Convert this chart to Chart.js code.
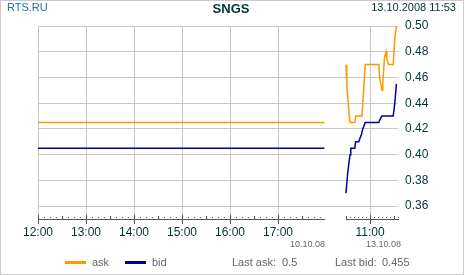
<!DOCTYPE html>
<html>
<head>
<meta charset="utf-8">
<title>SNGS</title>
<script src="https://cdn.jsdelivr.net/npm/chart.js@4/dist/chart.umd.min.js"></script>
<style>
    body { margin: 0; background: #fff; }
    #frame {
        position: relative;
        width: 465px;
        height: 275px;
        font-family: "Liberation Sans", Arial, sans-serif;
        font-size: 11px;
    }
    #frame .border {
        position: absolute;
        left: 0; top: 0;
        width: 464px; height: 275px;
        box-sizing: border-box;
        border: 1px solid #cccccc;
        pointer-events: none;
    }
    #chart { position: absolute; left: 0; top: 0; }
    .txt { position: absolute; line-height: 13px; white-space: nowrap; }
    .source { left: 7px; top: 1px; color: #1f6fa3; }
    .ticker { left: 181px; width: 100px; top: 1px; text-align: center; font-weight: bold; font-size: 13px; line-height: 15px; color: #003333; }
    .stamp { right: 9px; top: 1px; color: #003333; }
    .legend { color: #666666; top: 256px; }
    .swatch { position: absolute; top: 261px; width: 21px; height: 3px; }
</style>
</head>
<body>
<div id="frame">
    <canvas id="chart" width="465" height="275"></canvas>
    <div class="txt source">RTS.RU</div>
    <div class="txt ticker" id="ticker"></div>
    <div class="txt stamp" id="stamp"></div>

    <div class="swatch" style="left:65px; background:#ff9900;"></div>
    <div class="txt legend" style="left:92px;">ask</div>
    <div class="swatch" style="left:125px; background:#000099;"></div>
    <div class="txt legend" style="left:152px;">bid</div>
    <div class="txt legend" style="left:232px;">Last ask:</div>
    <div class="txt legend" style="left:282px;" id="lastAsk"></div>
    <div class="txt legend" style="left:335px;">Last bid:</div>
    <div class="txt legend" style="left:382px;" id="lastBid"></div>

    <div class="border"></div>
</div>

<script>
// --- data ---
const ticker = 'SNGS';
const stamp = '13.10.2008 11:53';

// two trading sessions shown side by side with a break between them
const sessionDates = ['10.10.08', '13.10.08'];
const sessionStart = ['12:00', '10:30'];
const sessionEnd = ['17:58', '11:35'];
const xTickTimes = [['12:00', '13:00', '14:00', '15:00', '16:00', '17:00'], ['11:00']];
const yTicks = [0.36, 0.38, 0.40, 0.42, 0.44, 0.46, 0.48, 0.50];

// session 1 (10.10.08)
const askTimes1 = ['12:00', '17:58'];
const askValues1 = [0.425, 0.425];
const bidTimes1 = ['12:00', '17:58'];
const bidValues1 = [0.405, 0.405];

// session 2 (13.10.08)
const askTimes2 = ['10:30', '10:31', '10:34', '10:35', '10:41', '10:42', '10:50', '10:52', '10:54',
    '11:11', '11:12', '11:15', '11:16', '11:18', '11:20', '11:21', '11:23', '11:29', '11:31', '11:33'];
const askValues2 = [0.47, 0.455, 0.43, 0.425, 0.425, 0.43, 0.43, 0.45, 0.47,
    0.47, 0.46, 0.45, 0.455, 0.475, 0.48, 0.475, 0.47, 0.47, 0.49, 0.50];
const bidTimes2 = ['10:30', '10:32', '10:35', '10:36', '10:41', '10:42', '10:46', '10:47', '10:49', '10:51', '10:54',
    '11:11', '11:13', '11:15', '11:29', '11:31', '11:33'];
const bidValues2 = [0.37, 0.385, 0.40, 0.405, 0.405, 0.41, 0.41, 0.412, 0.415, 0.42, 0.425,
    0.425, 0.428, 0.43, 0.43, 0.44, 0.455];

const lastAsk = 0.5;
const lastBid = 0.455;

// --- axis mapping: minutes on one continuous axis, session 2 shifted past the break ---
const sessionOffset = [0, 385];
const X_MAX = 450;

function minutes(t) {
    const p = t.split(':');
    return +p[0] * 60 + +p[1];
}

function toPos(session, t) {
    return sessionOffset[session] + minutes(t) - minutes(sessionStart[session]);
}

function buildSeries(times1, values1, times2, values2) {
    const pts = times1.map((t, i) => ({ x: toPos(0, t), y: values1[i] }));
    // null point breaks the line across the gap
    pts.push({ x: (toPos(0, sessionEnd[0]) + sessionOffset[1]) / 2, y: null });
    times2.forEach((t, i) => pts.push({ x: toPos(1, t), y: values2[i] }));
    return pts;
}

const tickLabels = {};
xTickTimes.forEach((list, s) => list.forEach(t => { tickLabels[toPos(s, t)] = t; }));

/**
 * Broken time axis: line, half-hour ticks, dotted minor marks, session dates
 */
const brokenAxis = {
    id: 'brokenAxis',
    afterDraw(chart) {
        const ctx = chart.ctx;
        const xs = chart.scales.x;
        const y0 = chart.chartArea.bottom;
        const dotStep = [7.5, 5];
        ctx.save();
        ctx.fillStyle = '#555555';
        sessionDates.forEach((d, s) => {
            const a = sessionOffset[s];
            const b = toPos(s, sessionEnd[s]);
            const pa = Math.round(xs.getPixelForValue(a));
            const pb = Math.round(xs.getPixelForValue(b));
            ctx.fillRect(pa, y0, pb - pa + 1, 1);
            // minor dots
            for (let m = a; m <= b; m += dotStep[s]) {
                ctx.fillRect(Math.round(xs.getPixelForValue(m)), y0 - 2, 1, 1);
            }
            // half-hour ticks, hour ticks a bit longer
            const startMin = minutes(sessionStart[s]);
            for (let m = a; m <= b; m++) {
                const clock = startMin + (m - a);
                if (clock % 30 !== 0) continue;
                const px = Math.round(xs.getPixelForValue(m));
                if (clock % 60 === 0) ctx.fillRect(px, y0 - 4, 1, 9);
                else ctx.fillRect(px, y0 - 3, 1, 4);
            }
            // session date under the end of the segment
            ctx.font = '9px "Liberation Sans", Arial, sans-serif';
            ctx.fillStyle = '#666666';
            ctx.textAlign = 'right';
            ctx.textBaseline = 'alphabetic';
            ctx.fillText(d, pb + 1 + s * 2, y0 + 28);
            ctx.fillStyle = '#555555';
        });
        ctx.restore();
    }
};

function init() {
    document.getElementById('ticker').textContent = ticker;
    document.getElementById('stamp').textContent = stamp;
    document.getElementById('lastAsk').textContent = String(lastAsk);
    document.getElementById('lastBid').textContent = String(lastBid);

    Chart.defaults.font.family = '"Liberation Sans", Arial, sans-serif';
    Chart.defaults.font.size = 11;

    new Chart(document.getElementById('chart'), {
        type: 'line',
        data: {
            datasets: [
                {
                    label: 'ask',
                    data: buildSeries(askTimes1, askValues1, askTimes2, askValues2),
                    borderColor: '#ff9900',
                    borderWidth: 1.5,
                    pointRadius: 0,
                    tension: 0,
                    spanGaps: false
                },
                {
                    label: 'bid',
                    data: buildSeries(bidTimes1, bidValues1, bidTimes2, bidValues2),
                    borderColor: '#000099',
                    borderWidth: 1.5,
                    pointRadius: 0,
                    tension: 0,
                    spanGaps: false
                }
            ]
        },
        options: {
            responsive: false,
            animation: false,
            devicePixelRatio: 1,
            layout: { padding: { left: 38, top: 26, right: 0, bottom: 0 } },
            plugins: {
                legend: { display: false },
                tooltip: { enabled: false }
            },
            scales: {
                x: {
                    type: 'linear',
                    min: 0,
                    max: X_MAX,
                    afterBuildTicks: (scale) => {
                        scale.ticks = Object.keys(tickLabels).map(v => ({ value: +v }));
                    },
                    afterFit: (scale) => { scale.height = 56; },
                    ticks: {
                        autoSkip: false,
                        maxRotation: 0,
                        padding: 6,
                        color: '#003333',
                        font: { size: 12 },
                        callback: (v) => tickLabels[v] || ''
                    },
                    grid: { color: '#c8c8c8', drawTicks: false },
                    border: { display: false }
                },
                y: {
                    position: 'right',
                    min: 0.35,
                    max: 0.50,
                    afterBuildTicks: (scale) => {
                        scale.ticks = yTicks.map(v => ({ value: v }));
                    },
                    afterFit: (scale) => { scale.width = 67; },
                    ticks: {
                        padding: 7,
                        color: '#003333',
                        font: { size: 12 },
                        callback: (v) => v.toFixed(2)
                    },
                    grid: { color: '#c8c8c8', drawTicks: false },
                    border: { display: false }
                }
            }
        },
        plugins: [brokenAxis]
    });
}

document.addEventListener('DOMContentLoaded', init);
</script>
</body>
</html>
